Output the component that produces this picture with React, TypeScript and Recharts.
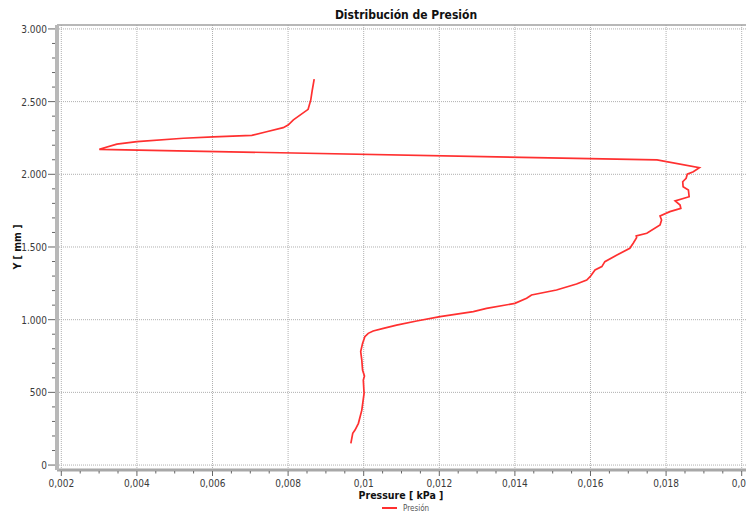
import React from "react";
import { LineChart, Line, XAxis, YAxis, ReferenceLine } from "recharts";

// Pressure [kPa] along the profile (drawn in this order)
const pressureKPa = [
  0.00966, 0.00971, 0.00977, 0.00986, 0.00995, 0.01001, 0.00999, 0.01002, 0.00997, 0.00995,
  0.00992, 0.00997, 0.01003, 0.01012, 0.01025, 0.01052, 0.01087, 0.0114, 0.01202, 0.0129,
  0.01325, 0.014, 0.01431, 0.01444, 0.0151, 0.01563, 0.0159, 0.01599, 0.01612, 0.0163,
  0.01638, 0.0167, 0.01704, 0.01713, 0.01722, 0.01721, 0.01749, 0.01784, 0.01788, 0.01784,
  0.0181, 0.01839, 0.01837, 0.01824, 0.01861, 0.01859, 0.01845, 0.01844, 0.01853, 0.01856,
  0.01872, 0.01888, 0.01776, 0.003005, 0.00347, 0.004, 0.00523, 0.00602, 0.00704, 0.00743,
  0.00787, 0.008, 0.00814, 0.00853, 0.0086, 0.00864, 0.00869,
];
// Y [mm]
const yMm = [
  149, 218, 241, 287, 378, 493, 585, 612, 654, 722,
  780, 837, 883, 906, 922, 940, 963, 991, 1021, 1055,
  1078, 1112, 1147, 1170, 1204, 1245, 1273, 1296, 1342, 1365,
  1399, 1445, 1491, 1526, 1564, 1576, 1594, 1651, 1686, 1713,
  1743, 1766, 1789, 1817, 1846, 1892, 1915, 1949, 1973, 2001,
  2018, 2046, 2099, 2172, 2207, 2225, 2248, 2257, 2268, 2293,
  2321, 2339, 2374, 2447, 2512, 2580, 2654,
];

const xMajorTicks = [0.002, 0.004, 0.006, 0.008, 0.01, 0.012, 0.014, 0.016, 0.018, 0.02];
const xTickLabels = ["0,002", "0,004", "0,006", "0,008", "0,01", "0,012", "0,014", "0,016", "0,018", "0,02"];
const xAllTicks = [
  0.002, 0.0025, 0.003, 0.0035, 0.004, 0.0045, 0.005, 0.0055, 0.006, 0.0065,
  0.007, 0.0075, 0.008, 0.0085, 0.009, 0.0095, 0.01, 0.0105, 0.011, 0.0115,
  0.012, 0.0125, 0.013, 0.0135, 0.014, 0.0145, 0.015, 0.0155, 0.016, 0.0165,
  0.017, 0.0175, 0.018, 0.0185, 0.019, 0.0195, 0.02,
];
const yMajorTicks = [0, 500, 1000, 1500, 2000, 2500, 3000];
const yTickLabels = ["0", "500", "1.000", "1.500", "2.000", "2.500", "3.000"];
const yAllTicks = [
  0, 100, 200, 300, 400, 500, 600, 700, 800, 900, 1000, 1100, 1200, 1300, 1400, 1500,
  1600, 1700, 1800, 1900, 2000, 2100, 2200, 2300, 2400, 2500, 2600, 2700, 2800, 2900, 3000,
];

const X_DOMAIN: [number, number] = [0.001886, 0.020114];
const Y_DOMAIN: [number, number] = [-34, 3027];

const data = pressureKPa.map((p, i) => ({ p, y: yMm[i] }));

const FONT = "'DejaVu Sans Condensed', 'DejaVu Sans', sans-serif";
const RED = "#ff3030";

const majorIndex = (arr: number[], v: number) => arr.findIndex((m) => Math.abs(m - v) < 1e-9);

const XTick = (props: any) => {
  const { x, y, payload } = props;
  const idx = majorIndex(xMajorTicks, payload.value);
  const major = idx >= 0;
  return (
    <g>
      <line x1={x} x2={x} y1={y + 1} y2={y + (major ? 6 : 3.5)} stroke="#666" strokeWidth={1} />
      {major && (
        <text x={x} y={y + 17} textAnchor="middle" fontFamily={FONT} fontSize={10} fill="#3a3a3a">
          {xTickLabels[idx]}
        </text>
      )}
    </g>
  );
};

const YTick = (props: any) => {
  const { x, y, payload } = props;
  const idx = majorIndex(yMajorTicks, payload.value);
  const major = idx >= 0;
  return (
    <g>
      <line x1={x - (major ? 9 : 5)} x2={x - 2} y1={y} y2={y} stroke="#666" strokeWidth={1} />
      {major && (
        <text x={x - 10} y={y + 4} textAnchor="end" fontFamily={FONT} fontSize={10} fill="#3a3a3a">
          {yTickLabels[idx]}
        </text>
      )}
    </g>
  );
};

export default function App() {
  return (
    <div style={{ position: "relative", width: 746, height: 512, background: "#fff" }}>
      <style>{"body{margin:0;background:#fff}"}</style>
      <LineChart width={746} height={512} data={data} margin={{ top: 25, right: 0, bottom: 0, left: 0 }}>
        {xMajorTicks.map((v) => (
          <ReferenceLine key={"vx" + v} x={v} stroke="#b0b0b0" strokeDasharray="1 1" strokeWidth={1} />
        ))}
        {yMajorTicks.map((v) => (
          <ReferenceLine key={"hy" + v} y={v} stroke="#b0b0b0" strokeDasharray="1 1" strokeWidth={1} />
        ))}
        <ReferenceLine y={Y_DOMAIN[1]} stroke="#a0a0a0" strokeWidth={1.5} />
        <XAxis
          dataKey="p"
          type="number"
          domain={X_DOMAIN}
          allowDataOverflow
          ticks={xAllTicks}
          interval={0}
          tick={<XTick />}
          tickLine={false}
          tickSize={0}
          tickMargin={0}
          axisLine={{ stroke: "#a8a8a8", strokeWidth: 3 }}
          height={42}
        />
        <YAxis
          dataKey="y"
          type="number"
          domain={Y_DOMAIN}
          allowDataOverflow
          ticks={yAllTicks}
          interval={0}
          tick={<YTick />}
          tickLine={false}
          tickSize={0}
          tickMargin={0}
          axisLine={{ stroke: "#b8b8b8", strokeWidth: 4 }}
          width={57}
        />
        <Line
          type="linear"
          dataKey="y"
          stroke={RED}
          strokeWidth={1.7}
          dot={false}
          isAnimationActive={false}
          name="Presión"
        />
      </LineChart>
      <svg
        width={746}
        height={512}
        style={{ position: "absolute", left: 0, top: 0, pointerEvents: "none" }}
      >
        <text x={406} y={18.5} textAnchor="middle" fontFamily={FONT} fontWeight="bold" fontSize={12} fill="#111">
          Distribución de Presión
        </text>
        <text x={401} y={499} textAnchor="middle" fontFamily={FONT} fontWeight="bold" fontSize={10.5} fill="#111">
          Pressure [ kPa ]
        </text>
        <text
          x={21}
          y={247}
          transform="rotate(-90 21 247)"
          textAnchor="middle"
          fontFamily={FONT}
          fontWeight="bold"
          fontSize={10.5}
          fill="#111"
        >
          Y [ mm ]
        </text>
        <line x1={382} x2={397} y1={508} y2={508} stroke={RED} strokeWidth={2} />
        <text x={403} y={510.5} fontFamily={FONT} fontSize={8} fill="#555">
          Presión
        </text>
      </svg>
    </div>
  );
}
